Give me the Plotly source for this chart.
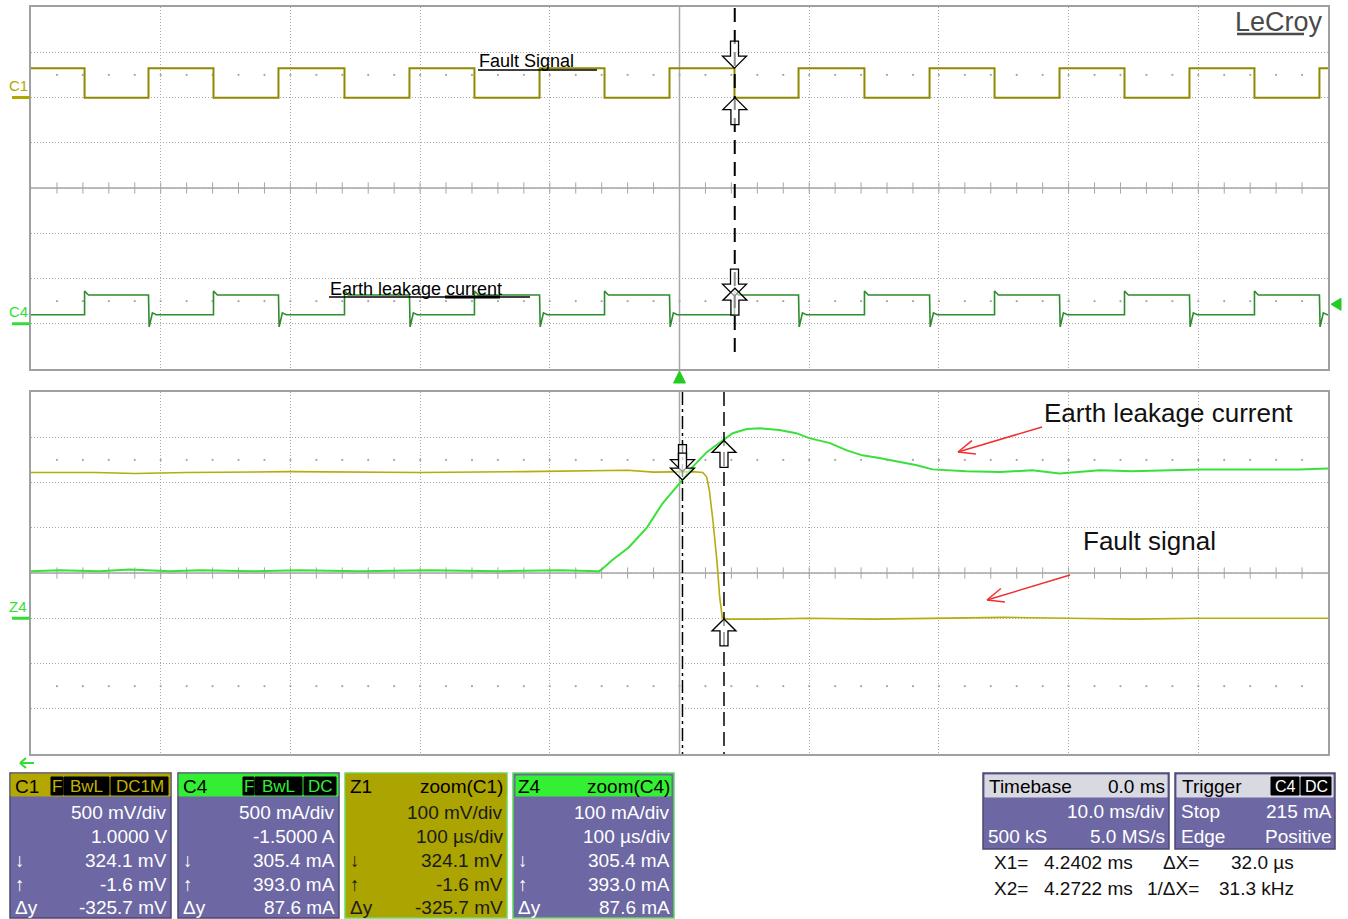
import math
import plotly.graph_objects as go

W, H = 1348, 919
FONT = "Liberation Sans, Arial, sans-serif"

# ---------------- data ----------------
# scope channel settings
C1_V_PER_DIV, C1_OFFSET_V = 0.5, 1.0
C4_A_PER_DIV, C4_OFFSET_A = 0.5, -1.5
Z1_MV_PER_DIV = 100.0
Z4_MA_PER_DIV = 100.0
ZOOM_GROUND_DIV = -1.0
TOP_MS_PER_DIV = 10.0
ZOOM_CENTER_MS = 4.2379
ZOOM_US_PER_DIV = 100.0
TRIGGER_LEVEL_A = 0.215

# cursors (X1, X2) and readings
cursor_x_ms = [4.2402, 4.2722]
c1_cursor_v = [0.3241, -0.0016]
c4_cursor_a = [0.3054, 0.3930]
z1_cursor_mv = [324.1, -1.6]
z4_cursor_ma = [305.4, 393.0]

# C1 "Fault signal" edges (ms); even index = falling edge, odd = rising edge
c1_edges_ms = [-45.87, -40.94, -35.93, -30.92, -25.83, -20.82, -15.81, -10.79,
               -5.78, -0.77, 4.24, 9.18, 14.26, 19.28, 24.29, 29.30, 34.31,
               39.32, 44.33, 49.34]
c1_high_v, c1_low_v = 0.324, -0.002
# C4 "Earth leakage current" levels (A)
c4_low_a, c4_high_a = 0.100, 0.318
c4_spike_a, c4_dip_a = 0.362, -0.035

# zoom traces (time in us from zoom centre)
z4_t_us = [-500, -478, -447, -424, -393, -370, -328, -293, -247, -193, -139,
           -92, -62, -60, -52, -39, -25, -13, 0, 10, 21, 31, 41, 52, 62, 77,
           90, 100, 116, 129, 141, 154, 170, 183, 195, 221, 247, 272, 293, 324,
           349, 376, 401, 426, 453, 478, 500]
z4_ma = [104, 106, 104, 108, 104, 106, 104, 106, 104, 106, 104,
         106, 104, 108, 128, 157, 201, 254, 298, 334, 367, 387, 409, 418, 420, 416,
         409, 398, 387, 371, 360, 354, 345, 338, 329, 325, 323, 327, 320, 327,
         325, 327, 329, 329, 329, 329, 331]
z1_t_us = [-500, -450, -420, -380, -300, -200, -120, -60, -40, -20, 0, 10, 18,
           21, 23, 26, 29, 31, 33, 36, 60, 100, 150, 200, 250, 300, 350, 400,
           450, 500]
z1_mv = [322, 322, 320, 322, 324, 322, 324, 326, 327, 323, 324, 324, 322,
         312, 283, 210, 122, 46, 2, -2, -2, 0, -2, 0, 2, 0, -2, 0, 0, 0]

# ---------------- geometry helpers ----------------
TOP_PX = (7, 369)
BOT_PX = (392, 754)
X_PX = (31, 1328)


def px(x):
    return x / W


def py(y):
    return 1 - y / H


top_range = [-5 * TOP_MS_PER_DIV, 5 * TOP_MS_PER_DIV]
zoom_range = [ZOOM_CENTER_MS - 5 * ZOOM_US_PER_DIV / 1000,
              ZOOM_CENTER_MS + 5 * ZOOM_US_PER_DIV / 1000]


def c1_div(v):
    return (v + C1_OFFSET_V) / C1_V_PER_DIV


def c4_div(a):
    return (a + C4_OFFSET_A) / C4_A_PER_DIV


def z1_div(mv):
    return mv / Z1_MV_PER_DIV + ZOOM_GROUND_DIV


def z4_div(ma):
    return ma / Z4_MA_PER_DIV + ZOOM_GROUND_DIV


def zt(us):
    return ZOOM_CENTER_MS + us / 1000.0


# ---------------- build top traces ----------------
c1_t, c1_v = [top_range[0]], [c1_high_v]
lvl = c1_high_v
for i, e in enumerate(c1_edges_ms):
    new = c1_low_v if i % 2 == 0 else c1_high_v
    c1_t += [e, e]
    c1_v += [lvl, new]
    lvl = new
c1_t.append(top_range[1])
c1_v.append(lvl)

c4_t, c4_a = [top_range[0]], [c4_low_a]
lvl = c4_low_a
for i, e in enumerate(c1_edges_ms):
    if i % 2 == 0:
        c4_t += [e, e, e + 0.3]
        c4_a += [c4_low_a, c4_spike_a, c4_high_a]
        lvl = c4_high_a
    else:
        c4_t += [e, e + 0.05, e + 0.3, e + 0.6]
        c4_a += [c4_high_a, c4_dip_a, c4_low_a + 0.02, c4_low_a]
        lvl = c4_low_a
c4_t.append(top_range[1])
c4_a.append(lvl)

fig = go.Figure()

GRID_C = "#a9a9a9"
CENTER_C = "#a6a6a6"

# minor ticks on centre lines and dot rows
for xa, ya, rng in (("x", "y", top_range), ("x2", "y2", zoom_range)):
    step = (rng[1] - rng[0]) / 50
    xs = [rng[0] + k * step for k in range(1, 50)]
    fig.add_trace(go.Scatter(x=xs, y=[0] * len(xs), xaxis=xa, yaxis=ya, mode="markers",
                             marker=dict(symbol="line-ns", size=8,
                                         line=dict(width=1, color=CENTER_C)),
                             hoverinfo="skip", showlegend=False))
    fig.add_trace(go.Scatter(x=xs * 2, y=[2.5] * len(xs) + [-2.5] * len(xs),
                             xaxis=xa, yaxis=ya, mode="markers",
                             marker=dict(symbol="circle", size=2.2, color="#a8a8a8"),
                             hoverinfo="skip", showlegend=False))

# signal traces
fig.add_trace(go.Scatter(x=c1_t, y=[c1_div(v) for v in c1_v], xaxis="x", yaxis="y",
                         mode="lines", line=dict(color="#918900", width=2),
                         hoverinfo="skip", showlegend=False))
fig.add_trace(go.Scatter(x=c4_t, y=[c4_div(a) for a in c4_a], xaxis="x", yaxis="y",
                         mode="lines", line=dict(color="#2e8b2e", width=1.6),
                         hoverinfo="skip", showlegend=False))
fig.add_trace(go.Scatter(x=[zt(t) for t in z1_t_us], y=[z1_div(v) for v in z1_mv],
                         xaxis="x2", yaxis="y2", mode="lines",
                         line=dict(color="#b5ad0a", width=1.6),
                         hoverinfo="skip", showlegend=False))
fig.add_trace(go.Scatter(x=[zt(t) for t in z4_t_us], y=[z4_div(v) for v in z4_ma],
                         xaxis="x2", yaxis="y2", mode="lines",
                         line=dict(color="#3ae03a", width=2),
                         hoverinfo="skip", showlegend=False))

shapes = []
annotations = []

# centre lines
for xr, yr, cx in (("x", "y", 0.0), ("x2", "y2", ZOOM_CENTER_MS)):
    shapes.append(dict(type="line", xref=xr, yref=yr, x0=cx, x1=cx, y0=-4, y1=4,
                       line=dict(color=CENTER_C, width=1.5), layer="below"))
    shapes.append(dict(type="line", xref=xr + " domain", yref=yr, x0=0, x1=1, y0=0, y1=0,
                       line=dict(color=CENTER_C, width=1.5), layer="below"))

# cursor lines
for xc in cursor_x_ms:
    shapes.append(dict(type="line", xref="x", yref="y", x0=xc, x1=xc, y0=3.98, y1=-3.8,
                       line=dict(color="black", width=1.5, dash="14px,8px")))
shapes.append(dict(type="line", xref="x2", yref="y2", x0=cursor_x_ms[0], x1=cursor_x_ms[0],
                   y0=4, y1=-4, line=dict(color="black", width=1.5, dash="13px,4px,3px,4px")))
shapes.append(dict(type="line", xref="x2", yref="y2", x0=cursor_x_ms[1], x1=cursor_x_ms[1],
                   y0=4, y1=-4, line=dict(color="black", width=1.5, dash="14px,6px")))

DOWN = "M0,0 L-12,12 L-4,12 L-4,27 L4,27 L4,12 L12,12 Z"
UP = "M0,0 L-12,-12 L-4,-12 L-4,-27 L4,-27 L4,-12 L12,-12 Z"


def cursor_arrow(xr, yr, xv, yv, path):
    shapes.append(dict(type="path", xref=xr, yref=yr, xsizemode="pixel", ysizemode="pixel",
                       xanchor=xv, yanchor=yv, path=path,
                       fillcolor="rgba(255,255,255,0.55)",
                       line=dict(color="black", width=1.3)))


cursor_arrow("x", "y", cursor_x_ms[0], c1_div(c1_cursor_v[0]), DOWN)
cursor_arrow("x", "y", cursor_x_ms[1], c1_div(c1_cursor_v[1]), UP)
cursor_arrow("x", "y", cursor_x_ms[0], c4_div(c4_cursor_a[0]), DOWN)
cursor_arrow("x", "y", cursor_x_ms[1], c4_div(c4_cursor_a[1]), UP)
cursor_arrow("x2", "y2", cursor_x_ms[0], z1_div(z1_cursor_mv[0]), DOWN)
cursor_arrow("x2", "y2", cursor_x_ms[0], z4_div(z4_cursor_ma[0]), DOWN)
cursor_arrow("x2", "y2", cursor_x_ms[1], z4_div(z4_cursor_ma[1]), UP)
cursor_arrow("x2", "y2", cursor_x_ms[1], z1_div(z1_cursor_mv[1]), UP)

# trigger markers
GREEN = "#22cc22"
shapes.append(dict(type="path", xref="x", yref="paper", xsizemode="pixel", ysizemode="pixel",
                   xanchor=0, yanchor=py(371), path="M0,0 L-6,-12 L6,-12 Z",
                   fillcolor=GREEN, line=dict(color=GREEN, width=1)))
shapes.append(dict(type="path", xref="paper", yref="y", xsizemode="pixel", ysizemode="pixel",
                   xanchor=px(1331), yanchor=c4_div(TRIGGER_LEVEL_A),
                   path="M0,0 L10,6 L10,-6 Z", fillcolor=GREEN, line=dict(color=GREEN, width=1)))


def pline(x0, y0, x1, y1, color, width):
    shapes.append(dict(type="line", xref="paper", yref="paper", x0=px(x0), y0=py(y0),
                       x1=px(x1), y1=py(y1), line=dict(color=color, width=width)))


def txt(x, y, s, anchor="right", size=19, color="white", family=FONT):
    annotations.append(dict(xref="paper", yref="paper", x=px(x), y=py(y), text=s,
                            xanchor=anchor, yanchor="middle", showarrow=False,
                            font=dict(size=size, color=color, family=family)))


def rect(x0, y0, x1, y1, fill, line=None, lw=1):
    shapes.append(dict(type="rect", xref="paper", yref="paper", x0=px(x0), x1=px(x1),
                       y0=py(y1), y1=py(y0), fillcolor=fill,
                       line=dict(color=line or fill, width=lw)))


def red_arrow(x0, y0, x1, y1):
    pline(x0, y0, x1, y1, "#f03030", 1.5)
    ang = math.atan2(y0 - y1, x0 - x1)
    for d in (0.4, -0.4):
        pline(x1, y1, x1 + 18 * math.cos(ang + d), y1 + 18 * math.sin(ang + d), "#f03030", 1.5)


# channel labels
C1_COL = "#b0a800"
C4_COL = "#33dd33"
ground_c1 = TOP_PX[0] + (4 - c1_div(0)) * (TOP_PX[1] - TOP_PX[0]) / 8
ground_c4 = TOP_PX[0] + (4 - c4_div(0)) * (TOP_PX[1] - TOP_PX[0]) / 8
ground_z = BOT_PX[0] + (4 - ZOOM_GROUND_DIV) * (BOT_PX[1] - BOT_PX[0]) / 8
txt(18, ground_c1 - 12, "C1", "center", 15, C1_COL)
pline(12, ground_c1, 30, ground_c1, C1_COL, 3)
txt(18, ground_c4 - 12, "C4", "center", 15, C4_COL)
pline(12, ground_c4, 30, ground_c4, C4_COL, 3)
txt(18, ground_z - 12, "Z4", "center", 15, C4_COL)
pline(12, ground_z, 30, ground_z, C4_COL, 3)
# back arrow bottom-left
pline(20, 763, 34, 763, C4_COL, 2)
pline(20, 763, 26, 758, C4_COL, 2)
pline(20, 763, 26, 768, C4_COL, 2)

# LeCroy logo
txt(1325, 22, "LeCroy", "right", 27, "#4a4a4a")
pline(1237, 34, 1304, 34, "#4a4a4a", 2.5)

# top annotations
txt(477, 61, "Fault Signal", "left", 18, "black")
pline(478, 70, 597, 70, "black", 1.5)
txt(328, 289, "Earth leakage current", "left", 18, "black")
pline(329, 297, 530, 297, "black", 1.5)
pline(445, 297, 500, 297, "black", 3)

# bottom annotations
txt(1042, 413, "Earth leakage current", "left", 26, "#111111")
red_arrow(1042, 427, 958, 452)
txt(1081, 541, "Fault signal", "left", 26, "#111111")
red_arrow(1070, 575, 987, 600)

# ---------------- info boxes ----------------
PURPLE = "#6d68a3"
OLIVE = "#aca400"
ROWS = [812, 836, 860, 884, 907]


def badges(items, color):
    for (x0, x1, s) in items:
        rect(x0, 777, x1, 795, "black", "black")
        txt((x0 + x1) / 2, 786, s, "center", 17, color)


def channel_box(x0, x1, hdr_fill, hdr_text, badge_items, badge_col, lines, body, txtcol,
                border, hdr_right=None, full_hdr=True):
    rect(x0, 773, x1, 918, body, border, 1.5)
    if full_hdr:
        rect(x0 + 1, 774, x1 - 1, 796, hdr_fill, hdr_fill)
    else:
        rect(x0 + 3, 776, x1 - 3, 796, hdr_fill, hdr_fill)
    txt(x0 + 3, 786, hdr_text, "left", 19, "black")
    if hdr_right:
        txt(x1 - 2, 786, hdr_right, "right", 19, "black")
    if badge_items:
        badges(badge_items, badge_col)
    for (left, right), y in zip(lines, ROWS):
        if left:
            txt(x0 + 3, y, left, "left", 19, txtcol)
        txt(x1 - 2, y, right, "right", 19, txtcol)


channel_box(10, 171, "#b3a700", "C1",
            [(51, 63, "F"), (64, 109, "BwL"), (111, 168, "DC1M")], "#c0b400",
            [("", "500 mV/div"), ("", "1.0000 V"), ("↓", "324.1 mV"),
             ("↑", "-1.6 mV"), ("Δy", "-325.7 mV")], PURPLE, "white", "#4a4870")
channel_box(178, 339, "#33ee33", "C4",
            [(243, 254, "F"), (255, 302, "BwL"), (304, 336, "DC")], "#33ee33",
            [("", "500 mA/div"), ("", "-1.5000 A"), ("↓", "305.4 mA"),
             ("↑", "393.0 mA"), ("Δy", "87.6 mA")], PURPLE, "white", "#4a4870")
channel_box(345, 507, OLIVE, "Z1", None, None,
            [("", "100 mV/div"), ("", "100 µs/div"), ("↓", "324.1 mV"),
             ("↑", "-1.6 mV"), ("Δy", "-325.7 mV")], OLIVE, "#1a1a1a", "#66dd66",
            hdr_right="zoom(C1)")
channel_box(513, 674, "#33f033", "Z4", None, None,
            [("", "100 mA/div"), ("", "100 µs/div"), ("↓", "305.4 mA"),
             ("↑", "393.0 mA"), ("Δy", "87.6 mA")], PURPLE, "white", "#55dd55",
            hdr_right="zoom(C4)", full_hdr=False)

# timebase / trigger
rect(983, 773, 1169, 849, PURPLE, "#4a4870", 1.5)
rect(985, 775, 1167, 797, "#d9d9e2", "#d9d9e2")
txt(987, 786, "Timebase", "left", 19, "black")
txt(1167, 786, "0.0 ms", "right", 19, "black")
txt(1167, 811, "10.0 ms/div", "right", 19, "white")
txt(986, 836, "500 kS", "left", 19, "white")
txt(1167, 836, "5.0 MS/s", "right", 19, "white")

rect(1175, 773, 1335, 849, PURPLE, "#4a4870", 1.5)
rect(1177, 775, 1333, 797, "#d9d9e2", "#d9d9e2")
txt(1180, 786, "Trigger", "left", 19, "black")
rect(1271, 777, 1299, 795, "black", "black")
txt(1285, 786, "C4", "center", 16, "white")
rect(1301, 777, 1331, 795, "black", "black")
txt(1316, 786, "DC", "center", 16, "white")
txt(1179, 811, "Stop", "left", 19, "white")
txt(1334, 811, "215 mA", "right", 19, "white")
txt(1179, 836, "Edge", "left", 19, "white")
txt(1334, 836, "Positive", "right", 19, "white")

# cursor readout
txt(992, 862, "X1=", "left", 19, "#111111")
txt(1135, 862, "4.2402 ms", "right", 19, "#111111")
txt(1201, 862, "ΔX=", "right", 19, "#111111")
txt(1296, 862, "32.0 µs", "right", 19, "#111111")
txt(992, 888, "X2=", "left", 19, "#111111")
txt(1135, 888, "4.2722 ms", "right", 19, "#111111")
txt(1201, 888, "1/ΔX=", "right", 19, "#111111")
txt(1296, 888, "31.3 kHz", "right", 19, "#111111")

# ---------------- axes ----------------
xdom = [px(X_PX[0]), px(X_PX[1])]
common = dict(showgrid=True, griddash="1px,2px", gridcolor=GRID_C, gridwidth=1,
              showticklabels=False, ticks="", zeroline=False, showline=True,
              mirror=True, linecolor="#a0a0a0", linewidth=1.5, fixedrange=True)

fig.update_layout(
    width=W, height=H, autosize=False,
    margin=dict(l=0, r=0, t=0, b=0),
    paper_bgcolor="white", plot_bgcolor="white",
    showlegend=False,
    xaxis=dict(domain=xdom, range=top_range, tick0=0, dtick=TOP_MS_PER_DIV,
               anchor="y", **common),
    yaxis=dict(domain=[py(TOP_PX[1]), py(TOP_PX[0])], range=[-4, 4], dtick=1,
               anchor="x", **common),
    xaxis2=dict(domain=xdom, range=zoom_range, tick0=ZOOM_CENTER_MS,
                dtick=ZOOM_US_PER_DIV / 1000, anchor="y2", **common),
    yaxis2=dict(domain=[py(BOT_PX[1]), py(BOT_PX[0])], range=[-4, 4], dtick=1,
                anchor="x2", **common),
    shapes=shapes,
    annotations=annotations,
)

fig.write_html("out.html")
